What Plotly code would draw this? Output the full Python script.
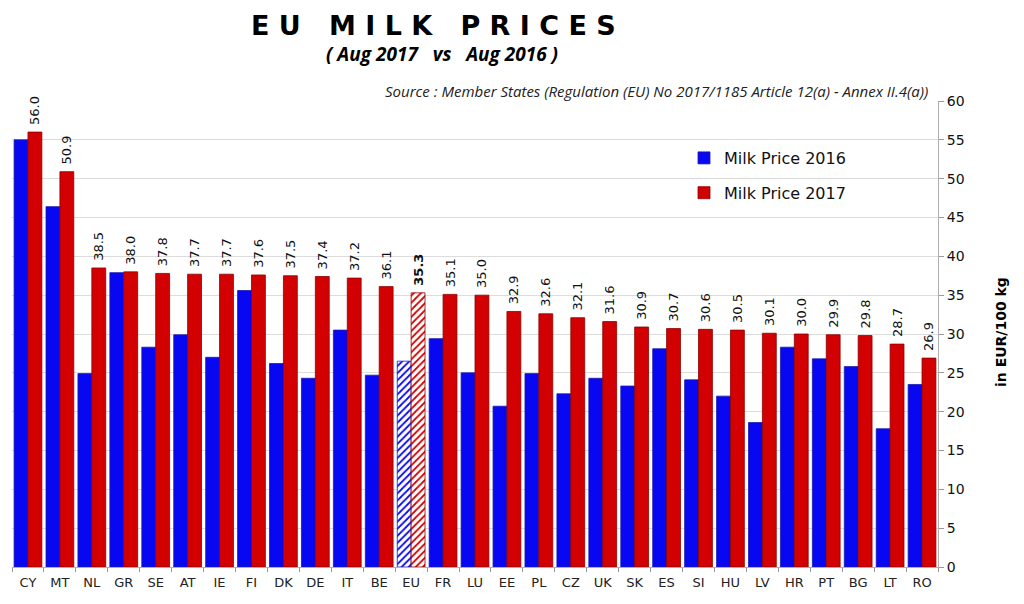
import plotly.graph_objects as go

countries = ["CY", "MT", "NL", "GR", "SE", "AT", "IE", "FI", "DK", "DE", "IT", "BE", "EU", "FR", "LU",
             "EE", "PL", "CZ", "UK", "SK", "ES", "SI", "HU", "LV", "HR", "PT", "BG", "LT", "RO"]
price_2016 = [55.0, 46.4, 24.9, 37.9, 28.3, 29.9, 27.0, 35.6, 26.2, 24.3, 30.5, 24.7, 26.5, 29.4, 25.0,
              20.7, 24.9, 22.3, 24.3, 23.3, 28.1, 24.1, 22.0, 18.6, 28.3, 26.8, 25.8, 17.8, 23.5]
price_2017 = [56.0, 50.9, 38.5, 38.0, 37.8, 37.7, 37.7, 37.6, 37.5, 37.4, 37.2, 36.1, 35.3, 35.1, 35.0,
              32.9, 32.6, 32.1, 31.6, 30.9, 30.7, 30.6, 30.5, 30.1, 30.0, 29.9, 29.8, 28.7, 26.9]

BLUE = "#0707f2"
RED = "#d20000"

# page offset of the figure (body margin) is 8px; target plot area on page: x 12..938, y 101..567
OFF = 8
PX0, PX1, PY0, PY1 = 12, 938, 101, 567
PW, PH = PX1 - PX0, PY1 - PY0
L = PX0 - OFF
T = PY0 - OFF
R = 1024 - L - PW
B = 604 - T - PH


def px_x(px):
    return (px - PX0) / PW


def px_y(py):
    return (PY1 - py) / PH


is_eu = [c == "EU" for c in countries]
labels_2017 = [("&nbsp;<b>%.1f</b>" if e else "&nbsp;%.1f") % v for v, e in zip(price_2017, is_eu)]

fig = go.Figure()
fig.add_trace(go.Bar(
    x=countries, y=price_2016, name="Milk Price 2016", legendgroup="a",
    marker=dict(
        color=BLUE,
        line=dict(color="#1a1ab0", width=0.8),
        pattern=dict(shape=["/" if e else "" for e in is_eu], bgcolor="white",
                     fgcolor=BLUE, size=5, solidity=0.35, fillmode="replace"),
    ),
    hoverinfo="x+y",
))
fig.add_trace(go.Bar(
    x=countries, y=price_2017, name="Milk Price 2017", legendgroup="b",
    text=labels_2017, textposition="outside", textangle=-90,
    textfont=dict(family="DejaVu Sans", size=13, color="#111111"),
    constraintext="none", cliponaxis=False,
    marker=dict(
        color=RED,
        line=dict(color="#8c0000", width=0.8),
        pattern=dict(shape=["/" if e else "" for e in is_eu], bgcolor="white",
                     fgcolor=RED, size=5, solidity=0.35, fillmode="replace"),
    ),
    hoverinfo="x+y",
))

fig.update_layout(
    width=1024, height=604,
    margin=dict(l=L, r=R, t=T, b=B, autoexpand=False),
    paper_bgcolor="white", plot_bgcolor="white",
    barmode="group", bargap=0.13, bargroupgap=0.0,
    font=dict(family="DejaVu Sans", color="#111111"),
    showlegend=True,
    legend=dict(x=px_x(684), y=px_y(141), xanchor="left", yanchor="top",
                bgcolor="rgba(0,0,0,0)", font=dict(family="DejaVu Sans", size=16, color="#111111"),
                tracegroupgap=11, itemwidth=30),
    xaxis=dict(
        type="category", tickson="boundaries", ticks="outside", ticklen=4,
        tickcolor="#999999", showline=True, linecolor="#b0b0b0", linewidth=1,
        tickfont=dict(family="DejaVu Sans", size=13, color="#222222"),
        ticklabelstandoff=3, showgrid=False,
    ),
    yaxis=dict(
        side="right", range=[0, 60], dtick=5, ticks="outside", ticklen=5,
        tickcolor="#999999", showline=True, linecolor="#b0b0b0", linewidth=1,
        showgrid=True, gridcolor="#dcdcdc", gridwidth=1, zeroline=False,
        tickfont=dict(family="DejaVu Sans", size=14, color="#111111"),
    ),
    annotations=[
        dict(text="<b>E U   M I L K   P R I C E S</b>", xref="paper", yref="paper",
             x=px_x(433), y=px_y(25), xanchor="center", yanchor="middle", showarrow=False,
             font=dict(family="DejaVu Sans", size=27, color="#000000")),
        dict(text="<b><i>( Aug 2017   vs   Aug 2016 )</i></b>", xref="paper", yref="paper",
             x=px_x(442), y=px_y(54), xanchor="center", yanchor="middle", showarrow=False,
             font=dict(family="Open Sans", size=19, color="#000000")),
        dict(text="<i>Source : Member States (Regulation (EU) No 2017/1185 Article 12(a) - Annex II.4(a))</i>",
             xref="paper", yref="paper", x=px_x(930), y=px_y(91), xanchor="right", yanchor="middle",
             showarrow=False, font=dict(family="Open Sans", size=15, color="#222222")),
        dict(text="<b>in EUR/100 kg</b>", xref="paper", yref="paper", x=px_x(1001), y=px_y(332),
             xanchor="center", yanchor="middle", textangle=-90, showarrow=False,
             font=dict(family="DejaVu Sans", size=14, color="#000000")),
    ],
)

fig.write_html("out.html")
